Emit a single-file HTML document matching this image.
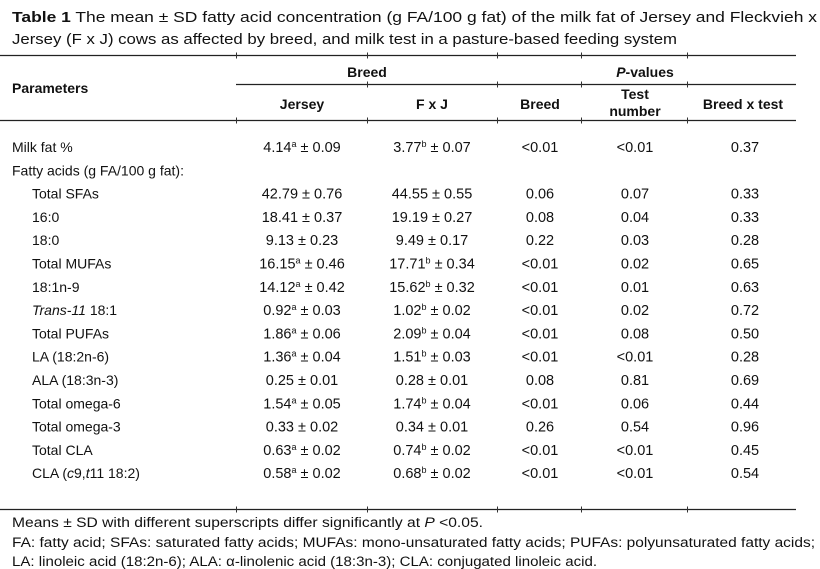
<!DOCTYPE html>
<html><head><meta charset="utf-8"><style>
body{margin:0;background:#fff}
svg{display:block;font-family:"Liberation Sans",Arial,sans-serif;fill:#111}
</style></head><body>
<svg id="s" width="820" height="569" viewBox="0 0 820 569" xmlns="http://www.w3.org/2000/svg">
<text x="12" y="22" font-size="15" textLength="805" lengthAdjust="spacingAndGlyphs"><tspan font-weight="bold">Table 1</tspan> The mean ± SD fatty acid concentration (g FA/100 g fat) of the milk fat of Jersey and Fleckvieh x</text>
<text x="12" y="44" font-size="15" textLength="665" lengthAdjust="spacingAndGlyphs">Jersey (F x J) cows as affected by breed, and milk test in a pasture-based feeding system</text>
<g stroke="#222" stroke-width="1.3">
<line x1="0" y1="55.5" x2="796" y2="55.5"/>
<line x1="236" y1="84.5" x2="796" y2="84.5"/>
<line x1="0" y1="120.5" x2="796" y2="120.5"/>
<line x1="0" y1="509.5" x2="796" y2="509.5"/>
</g>
<g id="ticks" stroke="#333" stroke-width="1"></g>
<g id="cells"></g>
<text x="12" y="527" font-size="13.5" textLength="471" lengthAdjust="spacingAndGlyphs">Means ± SD with different superscripts differ significantly at <tspan font-style="italic">P</tspan> &lt;0.05.</text>
<text x="12" y="547" font-size="13.5" textLength="803" lengthAdjust="spacingAndGlyphs">FA: fatty acid; SFAs: saturated fatty acids; MUFAs: mono-unsaturated fatty acids; PUFAs: polyunsaturated fatty acids;</text>
<text x="12" y="566" font-size="13.5" textLength="585" lengthAdjust="spacingAndGlyphs">LA: linoleic acid (18:2n-6); ALA: α-linolenic acid (18:3n-3); CLA: conjugated linoleic acid.</text>
</svg>
<script>
const NS="http://www.w3.org/2000/svg";
const g=document.getElementById('cells');
const tk=document.getElementById('ticks');
[236,367,497,581,687].forEach(x=>{[55.5,84.5,120.5,509.5].forEach(y=>{
  if(y===84.5&&x===236)return;
  const l=document.createElementNS(NS,'line');
  
  
  l.setAttribute('x1',x+0.5);l.setAttribute('x2',x+0.5);
  l.setAttribute('y1',y-3);l.setAttribute('y2',y+3);
  tk.appendChild(l);
});});
function t(x,y,html,anchor,bold,name,size){
  const e=document.createElementNS(NS,'text');
  
  
  e.setAttribute('x',x);
  e.setAttribute('y',y);
  e.setAttribute('text-anchor',anchor);
  e.setAttribute('font-size',size||14.5);
  if(bold)e.setAttribute('font-weight','bold');
  e.innerHTML=html;
  g.appendChild(e);
}
t(12,93,'Parameters','start',1,'parameters-header',14);
t(367,77,'Breed','middle',1,'breed-group-header',14);
t(645,77,'<tspan font-style="italic">P</tspan>-values','middle',1,'p-values-group-header',14);
t(302,109,'Jersey','middle',1,'jersey-header',14);
t(432,109,'F x J','middle',1,'fxj-header',14);
t(540,109,'Breed','middle',1,'breed-p-header',14);
t(635,99,'Test','middle',1,'test-number-header',14);
t(635,116,'number','middle',1,'test-number-header-2',14);
t(743,109,'Breed x test','middle',1,'breed-x-test-header',14);
const sup=s=>s?'<tspan font-size="9" dy="-5">'+s+'</tspan><tspan dy="5"> </tspan>':' ';
const rows=[
["Milk fat %",0,"4.14","a","0.09","3.77","b","0.07","<0.01","<0.01","0.37"],
["Fatty acids (g FA/100 g fat):",0],
["Total SFAs",1,"42.79","","0.76","44.55","","0.55","0.06","0.07","0.33"],
["16:0",1,"18.41","","0.37","19.19","","0.27","0.08","0.04","0.33"],
["18:0",1,"9.13","","0.23","9.49","","0.17","0.22","0.03","0.28"],
["Total MUFAs",1,"16.15","a","0.46","17.71","b","0.34","<0.01","0.02","0.65"],
["18:1n-9",1,"14.12","a","0.42","15.62","b","0.32","<0.01","0.01","0.63"],
['<tspan font-style="italic">Trans-11</tspan> 18:1',1,"0.92","a","0.03","1.02","b","0.02","<0.01","0.02","0.72"],
["Total PUFAs",1,"1.86","a","0.06","2.09","b","0.04","<0.01","0.08","0.50"],
["LA (18:2n-6)",1,"1.36","a","0.04","1.51","b","0.03","<0.01","<0.01","0.28"],
["ALA (18:3n-3)",1,"0.25","","0.01","0.28","","0.01","0.08","0.81","0.69"],
["Total omega-6",1,"1.54","a","0.05","1.74","b","0.04","<0.01","0.06","0.44"],
["Total omega-3",1,"0.33","","0.02","0.34","","0.01","0.26","0.54","0.96"],
["Total CLA",1,"0.63","a","0.02","0.74","b","0.02","<0.01","<0.01","0.45"],
['CLA (<tspan font-style="italic">c</tspan>9,<tspan font-style="italic">t</tspan>11 18:2)',1,"0.58","a","0.02","0.68","b","0.02","<0.01","<0.01","0.54"]
];
const esc=s=>s.replace(/</g,'&lt;');
rows.forEach((r,i)=>{
  const y=152+i*23.3;
  t(r[1]?32:12,y,r[0],'start',0,'row-label',14);
  if(r.length<3)return;
  t(302,y,r[2]+sup(r[3])+'± '+r[4],'middle',0,'jersey-value');
  t(432,y,r[5]+sup(r[6])+'± '+r[7],'middle',0,'fxj-value');
  t(540,y,esc(r[8]),'middle',0,'breed-p-value');
  t(635,y,esc(r[9]),'middle',0,'test-p-value');
  t(745,y,esc(r[10]),'middle',0,'interaction-p-value');
});
</script>
</body></html>
